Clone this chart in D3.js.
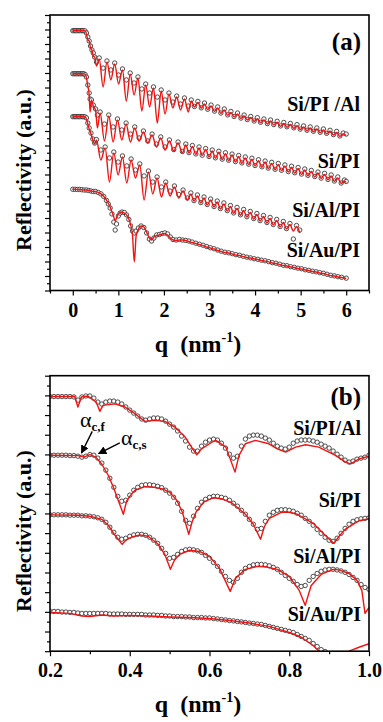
<!DOCTYPE html>
<html>
<head>
<meta charset="utf-8">
<script src="https://cdn.jsdelivr.net/npm/d3@7"></script>
<style>
  body { margin: 0; background: #fff; }
  svg { display: block; }
</style>
</head>
<body>
<svg id="chart" width="383" height="722"></svg>
<script>
// ---- data: log10 of reflectivity (arbitrary offsets) ----

// panel (a): rows are [q, fit, measured]
const siPiAlA = [
  [0.00,-1.08,-1.08],[0.03,-1.08,-1.08],[0.06,-1.08,-1.08],[0.09,-1.08,-1.08],[0.12,-1.08,-1.08],
  [0.15,-1.08,-1.08],[0.18,-1.08,-1.08],[0.21,-1.08,-1.08],[0.24,-1.08,-1.08],[0.27,-1.08,-1.10],
  [0.30,-1.31,-1.24],[0.33,-1.72,-1.52],[0.36,-1.79,-1.79],[0.39,-2.28,-2.14],[0.42,-2.41,-2.41],
  [0.45,-2.83,-2.62],[0.48,-2.90,-2.90],[0.52,-3.52,-3.24],
  [0.58,-3.03,-2.96],[0.665,-4.97,-3.66],[0.75,-3.24,-3.17],[0.835,-4.48,-3.79],[0.92,-3.38,-3.31],
  [1.005,-4.76,-4.14],[1.09,-3.79,-3.72],[1.175,-5.93,-4.48],[1.26,-4.07,-4.00],[1.345,-5.52,-4.69],
  [1.43,-4.34,-4.27],[1.515,-6.62,-5.10],[1.60,-4.83,-4.76],[1.685,-6.34,-5.38],[1.77,-5.03,-4.96],
  [1.855,-7.45,-5.66],[1.94,-5.24,-5.17],[2.025,-6.83,-5.86],[2.11,-5.45,-5.38],[2.195,-6.41,-6.00],
  [2.28,-5.66,-5.59],[2.365,-6.55,-6.14],[2.45,-5.79,-5.72],[2.535,-6.69,-6.28],
  [2.60,-5.93,-5.86],[2.67,-6.34,-6.31],[2.745,-6.03,-5.96],[2.82,-6.43,-6.40],[2.89,-6.14,-6.07],
  [2.96,-6.53,-6.50],[3.035,-6.28,-6.21],[3.11,-6.66,-6.63],[3.18,-6.41,-6.34],[3.25,-6.79,-6.76],
  [3.325,-6.55,-6.48],[3.40,-6.92,-6.89],[3.47,-6.72,-6.65],[3.54,-7.03,-7.00],[3.615,-6.83,-6.76],
  [3.69,-7.14,-7.11],[3.76,-6.97,-6.90],[3.83,-7.24,-7.21],[3.905,-7.07,-7.00],[3.98,-7.34,-7.31],
  [4.05,-7.15,-7.08],[4.12,-7.43,-7.40],[4.195,-7.24,-7.17],[4.27,-7.52,-7.49],[4.34,-7.31,-7.24],
  [4.41,-7.59,-7.56],[4.485,-7.40,-7.33],[4.56,-7.68,-7.65],[4.63,-7.48,-7.41],[4.70,-7.74,-7.71],
  [4.775,-7.55,-7.48],[4.85,-7.81,-7.78],[4.92,-7.63,-7.56],[4.99,-7.90,-7.87],[5.065,-7.72,-7.65],
  [5.14,-7.98,-7.95],[5.21,-7.79,-7.72],[5.28,-8.05,-8.02],[5.355,-7.86,-7.79],[5.43,-8.12,-8.09],
  [5.50,-7.93,-7.86],[5.57,-8.19,-8.16],[5.645,-8.02,-7.95],[5.72,-8.28,-8.25],[5.79,-8.10,-8.03],
  [5.86,-8.37,-8.34],[5.935,-8.21,-8.14],[6.00,-8.31,-8.21]
];

const siPiA = [
  [0.00,-4.05,-4.05],[0.03,-4.05,-4.05],[0.06,-4.05,-4.05],[0.09,-4.05,-4.05],[0.12,-4.05,-4.05],
  [0.15,-4.05,-4.05],[0.18,-4.05,-4.05],[0.21,-4.05,-4.05],[0.24,-4.05,-4.05],[0.27,-4.08,-4.10],
  [0.30,-4.34,-4.28],[0.33,-4.90,-4.83],[0.36,-5.52,-5.38],[0.38,-6.69,-5.79],[0.41,-5.86,-5.86],
  [0.45,-6.28,-6.21],[0.50,-6.55,-6.48],[0.54,-7.79,-6.90],
  [0.60,-6.76,-6.69],[0.695,-8.69,-7.52],[0.79,-6.97,-6.90],[0.885,-8.76,-7.72],[0.98,-7.24,-7.17],
  [1.075,-8.62,-7.93],[1.17,-7.52,-7.45],[1.265,-8.76,-8.21],[1.36,-7.79,-7.72],[1.455,-8.69,-8.48],
  [1.55,-8.07,-8.00],[1.645,-8.83,-8.69],[1.74,-8.28,-8.21],[1.835,-9.10,-8.90],[1.93,-8.48,-8.41],
  [2.025,-9.31,-9.10],[2.12,-8.69,-8.62],[2.215,-9.38,-9.28],[2.31,-8.83,-8.76],[2.405,-9.52,-9.41],
  [2.48,-8.97,-8.90],[2.55,-9.52,-9.49],[2.625,-9.07,-9.00],[2.70,-9.61,-9.58],[2.77,-9.17,-9.10],
  [2.84,-9.70,-9.67],[2.915,-9.28,-9.21],[2.99,-9.79,-9.76],[3.06,-9.38,-9.31],[3.13,-9.88,-9.85],
  [3.205,-9.47,-9.40],[3.28,-9.97,-9.94],[3.35,-9.57,-9.50],[3.42,-10.05,-10.02],[3.495,-9.66,-9.59],
  [3.57,-10.14,-10.11],[3.64,-9.76,-9.69],[3.71,-10.23,-10.20],[3.785,-9.86,-9.79],[3.86,-10.32,-10.29],
  [3.93,-9.95,-9.88],[4.00,-10.41,-10.38],[4.075,-10.05,-9.98],[4.15,-10.50,-10.47],[4.22,-10.14,-10.07],
  [4.29,-10.59,-10.56],[4.365,-10.23,-10.16],[4.44,-10.67,-10.64],[4.51,-10.31,-10.24],[4.58,-10.74,-10.71],
  [4.655,-10.41,-10.34],[4.73,-10.83,-10.80],[4.80,-10.50,-10.43],[4.87,-10.91,-10.88],[4.945,-10.59,-10.52],
  [5.02,-11.00,-10.97],[5.09,-10.69,-10.62],[5.16,-11.09,-11.06],[5.235,-10.79,-10.72],[5.31,-11.17,-11.14],
  [5.38,-10.90,-10.83],[5.45,-11.28,-11.25],[5.525,-10.99,-10.92],[5.60,-11.37,-11.34],[5.67,-11.10,-11.03],
  [5.74,-11.48,-11.45],[5.815,-11.24,-11.17],[5.89,-11.62,-11.59],[5.96,-11.45,-11.38],[6.00,-11.55,-11.48]
];

const siAlPiA = [
  [0.00,-7.01,-7.01],[0.03,-7.01,-7.01],[0.06,-7.01,-7.01],[0.09,-7.01,-7.01],[0.12,-7.01,-7.01],
  [0.15,-7.01,-7.01],[0.18,-7.01,-7.01],[0.21,-7.01,-7.01],[0.24,-7.01,-7.01],[0.27,-7.03,-7.03],
  [0.30,-7.17,-7.10],[0.33,-7.52,-7.45],[0.36,-7.86,-7.79],[0.40,-8.21,-8.14],[0.44,-8.62,-8.55],
  [0.48,-8.90,-8.83],[0.52,-8.62,-8.59],
  [0.615,-10.00,-9.31],[0.71,-9.17,-9.10],[0.805,-11.52,-9.86],[0.90,-9.52,-9.45],[0.995,-11.03,-10.14],
  [1.09,-9.79,-9.72],[1.185,-11.59,-10.41],[1.28,-10.00,-9.93],[1.375,-11.24,-10.69],[1.47,-10.34,-10.27],
  [1.565,-12.76,-11.10],[1.66,-10.83,-10.76],[1.755,-12.34,-11.52],[1.85,-11.24,-11.17],[1.945,-12.55,-11.86],
  [2.04,-11.59,-11.52],[2.135,-12.48,-12.14],[2.23,-11.86,-11.79],[2.325,-12.62,-12.38],[2.42,-12.14,-12.07],
  [2.515,-12.76,-12.62],
  [2.59,-12.34,-12.27],[2.66,-12.83,-12.80],[2.735,-12.48,-12.41],[2.81,-12.97,-12.94],[2.88,-12.62,-12.55],
  [2.95,-13.10,-13.07],[3.025,-12.76,-12.69],[3.10,-13.24,-13.21],[3.17,-12.90,-12.83],[3.24,-13.38,-13.35],
  [3.315,-13.03,-12.96],[3.39,-13.52,-13.49],[3.46,-13.21,-13.14],[3.53,-13.68,-13.65],[3.605,-13.34,-13.27],
  [3.68,-13.81,-13.78],[3.75,-13.48,-13.41],[3.82,-13.94,-13.91],[3.895,-13.62,-13.55],[3.97,-14.07,-14.04],
  [4.04,-13.76,-13.69],[4.11,-14.21,-14.18],[4.185,-13.90,-13.83],[4.26,-14.34,-14.31],[4.33,-14.03,-13.96],
  [4.40,-14.48,-14.45],[4.475,-14.17,-14.10],[4.55,-14.62,-14.59],[4.62,-14.31,-14.24],[4.69,-14.76,-14.73],
  [4.765,-14.45,-14.38],[4.84,-14.90,-15.45],[4.91,-14.59,-14.52],[4.98,-15.03,-14.83]
];

const siAuPiA = [
  [0.00,-12.02,-12.02],[0.05,-12.02,-12.02],[0.10,-12.03,-12.03],[0.15,-12.03,-12.03],[0.20,-12.05,-12.05],
  [0.25,-12.07,-12.07],[0.30,-12.07,-12.07],[0.35,-12.10,-12.10],[0.40,-12.14,-12.14],[0.45,-12.17,-12.17],
  [0.50,-12.17,-12.17],[0.56,-12.24,-12.24],[0.62,-12.34,-12.34],[0.68,-12.52,-12.52],[0.74,-12.76,-12.79],
  [0.78,-13.00,-13.03],[0.82,-13.24,-13.31],[0.86,-13.59,-13.72],[0.90,-13.93,-14.28],[0.93,-14.21,-14.83],
  [0.96,-14.00,-14.41],[1.00,-13.72,-13.86],[1.04,-13.62,-13.66],[1.08,-13.59,-13.59],[1.13,-13.66,-13.62],
  [1.18,-13.79,-13.79],[1.23,-14.07,-14.10],[1.27,-14.48,-14.55],[1.31,-15.17,-14.90],[1.35,-17.03,-15.03],
  [1.39,-15.24,-14.90],[1.44,-14.76,-14.69],[1.50,-14.55,-14.55],[1.56,-14.62,-14.66],[1.62,-14.97,-15.03],
  [1.68,-15.38,-15.45],[1.73,-15.52,-15.59],[1.78,-15.31,-15.38],[1.84,-15.21,-15.17],[1.90,-15.17,-15.14],
  [1.96,-15.10,-15.07],[2.02,-15.07,-15.03],[2.08,-15.17,-15.10],[2.14,-15.38,-15.31],[2.20,-15.52,-15.48],
  [2.27,-15.55,-15.52],[2.34,-15.52,-15.48],[2.41,-15.52,-15.52],[2.48,-15.55,-15.55],[2.55,-15.62,-15.59],
  [2.62,-15.69,-15.66],[2.70,-15.76,-15.74],[2.78,-15.83,-15.81],[2.86,-15.90,-15.88],[2.94,-16.00,-15.97],
  [3.02,-16.07,-16.05],[3.10,-16.14,-16.12],[3.18,-16.24,-16.21],[3.26,-16.31,-16.29],[3.34,-16.38,-16.36],
  [3.42,-16.41,-16.40],[3.50,-16.48,-16.46],[3.58,-16.55,-16.53],[3.66,-16.59,-16.57],[3.74,-16.66,-16.64],
  [3.82,-16.72,-16.70],[3.90,-16.76,-16.75],[3.98,-16.83,-16.81],[4.06,-16.86,-16.85],[4.14,-16.93,-16.91],
  [4.22,-16.97,-16.95],[4.30,-17.03,-17.01],[4.38,-17.10,-17.08],[4.46,-17.14,-17.12],[4.54,-17.21,-17.19],
  [4.62,-17.28,-17.26],[4.70,-17.31,-17.29],[4.78,-17.38,-17.36],[4.86,-17.41,-17.40],[4.94,-17.48,-17.46],
  [5.02,-17.52,-17.50],[5.10,-17.59,-17.57],[5.18,-17.62,-17.61],[5.26,-17.69,-17.67],[5.34,-17.72,-17.71],
  [5.42,-17.79,-17.77],[5.50,-17.83,-17.81],[5.58,-17.90,-17.88],[5.66,-17.97,-17.95],[5.74,-18.00,-17.99],
  [5.82,-18.07,-18.05],[5.90,-18.10,-18.09],[6.00,-18.17,-18.15]
];

// panel (b): measured points on a common q grid, fits as key points [q, value]
const qB = [
  0.20,0.21,0.22,0.23,0.24,0.25,0.26,0.27,0.28,0.29,
  0.30,0.31,0.32,0.33,0.34,0.35,0.36,0.37,0.38,0.39,
  0.40,0.41,0.42,0.43,0.44,0.45,0.46,0.47,0.48,0.49,
  0.50,0.51,0.52,0.53,0.54,0.55,0.56,0.57,0.58,0.59,
  0.60,0.61,0.62,0.63,0.64,0.65,0.66,0.67,0.68,0.69,
  0.70,0.71,0.72,0.73,0.74,0.75,0.76,0.77,0.78,0.79,
  0.80,0.81,0.82,0.83,0.84,0.85,0.86,0.87,0.88,0.89,
  0.90,0.91,0.92,0.93,0.94,0.95,0.96,0.97,0.98,0.99,
  1.00
];

const expSiPiAlB = [
  -1.06,-1.06,-1.06,-1.06,-1.06,-1.06,-1.08,-1.24,-1.08,-1.03,
  -1.03,-1.14,-1.34,-1.44,-1.34,-1.29,-1.29,-1.34,-1.44,-1.59,
  -1.75,-1.90,-2.05,-2.20,-2.26,-2.20,-2.15,-2.15,-2.20,-2.31,
  -2.46,-2.61,-2.81,-3.07,-3.32,-3.63,-3.83,-3.83,-3.58,-3.38,
  -3.27,-3.22,-3.27,-3.43,-3.68,-3.99,-4.19,-4.09,-3.58,-3.22,
  -3.07,-3.02,-3.02,-3.07,-3.17,-3.27,-3.43,-3.58,-3.68,-3.73,
  -3.63,-3.43,-3.32,-3.27,-3.27,-3.27,-3.32,-3.38,-3.48,-3.58,
  -3.68,-3.83,-3.99,-4.14,-4.29,-4.39,-4.34,-4.24,-4.19,-4.14,
  -4.04
];
const expSiPiB = [
  -4.04,-4.04,-4.04,-4.04,-4.04,-4.06,-4.06,-4.09,-4.14,-4.09,
  -4.01,-4.04,-4.19,-4.44,-4.80,-5.21,-5.67,-6.13,-6.38,-6.33,
  -6.07,-5.82,-5.67,-5.57,-5.54,-5.54,-5.57,-5.62,-5.69,-5.82,
  -5.97,-6.18,-6.48,-6.89,-7.35,-7.50,-7.14,-6.74,-6.43,-6.28,
  -6.18,-6.13,-6.13,-6.18,-6.23,-6.33,-6.48,-6.63,-6.84,-7.04,
  -7.30,-7.55,-7.81,-7.76,-7.40,-7.09,-6.94,-6.84,-6.81,-6.81,
  -6.84,-6.89,-6.99,-7.09,-7.25,-7.40,-7.60,-7.81,-8.01,-8.21,
  -8.36,-8.42,-8.26,-8.01,-7.76,-7.55,-7.40,-7.32,-7.27,-7.25,
  -7.22
];
const expSiAlPiB = [
  -7.07,-7.07,-7.07,-7.07,-7.07,-7.09,-7.09,-7.09,-7.12,-7.12,
  -7.14,-7.17,-7.22,-7.30,-7.45,-7.70,-7.96,-8.21,-8.31,-8.26,
  -8.16,-8.09,-8.06,-8.06,-8.11,-8.21,-8.36,-8.52,-8.77,-9.03,
  -9.28,-9.23,-9.08,-8.93,-8.85,-8.82,-8.85,-8.90,-8.98,-9.13,
  -9.28,-9.49,-9.69,-9.94,-10.20,-10.40,-10.50,-10.30,-9.99,-9.79,
  -9.69,-9.61,-9.59,-9.59,-9.61,-9.66,-9.74,-9.84,-9.99,-10.15,
  -10.30,-10.45,-10.61,-10.71,-10.66,-10.40,-10.20,-10.05,-9.94,-9.87,
  -9.84,-9.84,-9.87,-9.92,-9.99,-10.10,-10.25,-10.40,-10.61,-10.76,
  -10.86
];
// measured Si/Au/PI leaves the frame after q = 0.90
const expSiAuPiB = [
  -11.98,-11.98,-11.98,-12.01,-12.01,-12.03,-12.03,-12.06,-12.08,-12.08,
  -12.08,-12.08,-12.08,-12.08,-12.08,-12.11,-12.11,-12.11,-12.11,-12.13,
  -12.13,-12.13,-12.13,-12.13,-12.16,-12.16,-12.16,-12.18,-12.18,-12.21,
  -12.21,-12.24,-12.24,-12.24,-12.26,-12.26,-12.29,-12.29,-12.29,-12.31,
  -12.31,-12.34,-12.36,-12.39,-12.41,-12.44,-12.46,-12.49,-12.51,-12.54,
  -12.57,-12.59,-12.62,-12.64,-12.69,-12.74,-12.79,-12.84,-12.89,-12.94,
  -12.99,-13.05,-13.15,-13.25,-13.35,-13.45,-13.61,-13.76,-13.92,-14.02,
  -14.12
];

const fitSiPiAlB = [
  [0.20,-1.06],[0.262,-1.06],[0.270,-1.59],[0.279,-1.08],[0.295,-1.03],[0.316,-1.34],[0.325,-1.81],
  [0.333,-1.51],[0.363,-1.43],[0.388,-1.59],[0.413,-1.93],[0.438,-2.32],[0.463,-2.27],[0.488,-2.32],
  [0.513,-2.61],[0.539,-3.12],[0.555,-3.63],[0.568,-4.02],[0.580,-3.72],[0.606,-3.38],[0.616,-3.29],
  [0.641,-3.63],[0.664,-4.90],[0.674,-4.05],[0.690,-3.46],[0.715,-3.29],[0.749,-3.46],[0.770,-3.72],
  [0.791,-3.88],[0.816,-3.63],[0.841,-3.51],[0.874,-3.63],[0.916,-4.05],[0.941,-4.39],[0.954,-4.48],
  [0.975,-4.23],[1.00,-4.09]
];
const fitSiPiB = [
  [0.20,-4.04],[0.27,-4.06],[0.285,-4.14],[0.30,-4.01],[0.315,-4.14],[0.33,-4.50],[0.346,-5.06],
  [0.36,-5.72],[0.372,-6.38],[0.384,-7.04],[0.392,-6.38],[0.40,-6.13],[0.413,-5.82],[0.438,-5.64],
  [0.46,-5.67],[0.48,-5.74],[0.50,-5.92],[0.518,-6.33],[0.532,-6.94],[0.548,-8.06],[0.556,-7.45],
  [0.566,-6.94],[0.585,-6.43],[0.61,-6.20],[0.63,-6.25],[0.657,-6.48],[0.69,-7.04],[0.71,-7.55],
  [0.728,-8.31],[0.738,-7.65],[0.75,-7.25],[0.78,-6.94],[0.80,-6.94],[0.82,-7.04],[0.86,-7.50],
  [0.89,-8.11],[0.912,-8.52],[0.925,-8.16],[0.94,-7.81],[0.975,-7.37],[1.00,-7.27]
];
const fitSiAlPiB = [
  [0.20,-7.07],[0.27,-7.09],[0.30,-7.14],[0.33,-7.30],[0.346,-7.60],[0.363,-8.11],[0.381,-8.57],
  [0.39,-8.36],[0.404,-8.21],[0.425,-8.09],[0.446,-8.16],[0.47,-8.54],[0.488,-9.08],[0.502,-9.84],
  [0.512,-9.38],[0.525,-9.08],[0.55,-8.87],[0.575,-8.93],[0.60,-9.18],[0.625,-9.79],[0.652,-10.96],
  [0.665,-10.30],[0.69,-9.84],[0.72,-9.69],[0.74,-9.71],[0.77,-9.84],[0.80,-10.20],[0.825,-10.91],
  [0.840,-11.67],[0.855,-10.66],[0.88,-10.10],[0.91,-9.84],[0.925,-9.87],[0.95,-10.05],[0.97,-10.40],
  [0.982,-10.91],[0.99,-12.08],[1.00,-11.78]
];
const fitSiAuPiB = [
  [0.20,-12.03],[0.25,-12.08],[0.28,-12.21],[0.30,-12.24],[0.33,-12.16],[0.36,-12.21],[0.40,-12.18],
  [0.45,-12.21],[0.50,-12.26],[0.55,-12.29],[0.60,-12.34],[0.65,-12.44],[0.70,-12.57],[0.75,-12.74],
  [0.80,-13.05],[0.83,-13.29],[0.86,-13.71],[0.885,-14.21],[0.92,-15.20],[0.95,-14.00],[0.975,-13.80],
  [1.00,-13.62]
];

// tick labels
const qTicksA = [0, 1, 2, 3, 4, 5, 6];
const qMinorA = [-0.5, 0.5, 1.5, 2.5, 3.5, 4.5, 5.5, 6.5];
const qTicksB = [0.2, 0.4, 0.6, 0.8, 1.0];
const qMinorB = [0.3, 0.5, 0.7, 0.9];

const namesA = ['Si/PI /Al', 'Si/PI', 'Si/Al/PI', 'Si/Au/PI'];
const namesB = ['Si/PI/Al', 'Si/PI', 'Si/Al/PI', 'Si/Au/PI'];

// ---- drawing ----
const svg = d3.select('#chart');
const serif = '"Liberation Serif", "Times New Roman", serif';
const red = '#f21212';
const left = 50, right = 369;

const panels = [
  {
    id: 'a', xDomain: [-0.5, 6.5], decades: [-19, 0], top: 15, bottom: 290.5,
    major: qTicksA, minor: qMinorA, fmt: d3.format('d'), curve: d3.curveMonotoneX,
    series: [siPiAlA, siPiA, siAlPiA, siAuPiA].map(rows => ({
      pts: rows.map(r => [r[0], r[2]]),
      line: rows.map(r => [r[0], r[1]])
    })),
    names: namesA, nameY: [111, 168, 216.5, 257], nameX: 360,
    tag: '(a)', tagY: 50, yLabelStart: 251, titleY: 352
  },
  {
    id: 'b', xDomain: [0.2, 1.0], decades: [-14, 0], top: 375.7, bottom: 651.2,
    major: qTicksB, minor: qMinorB, fmt: d3.format('.1f'), curve: d3.curveLinear,
    series: [
      [expSiPiAlB, fitSiPiAlB], [expSiPiB, fitSiPiB],
      [expSiAlPiB, fitSiAlPiB], [expSiAuPiB, fitSiAuPiB]
    ].map(([exp, fit]) => ({ pts: exp.map((v, i) => [qB[i], v]), line: fit })),
    names: namesB, nameY: [435, 507, 563, 620.5], nameX: 361,
    tag: '(b)', tagY: 405, yLabelStart: 612, titleY: 712
  }
];

panels.forEach(p => {
  const x = d3.scaleLinear().domain(p.xDomain).range([left, right]);
  const y = d3.scaleLog()
    .domain([10 ** p.decades[0], 10 ** p.decades[1]])
    .range([p.bottom, p.top]);
  const g = svg.append('g');

  g.append('clipPath').attr('id', 'clip-' + p.id)
    .append('rect')
    .attr('x', left).attr('y', p.top)
    .attr('width', right - left).attr('height', p.bottom - p.top);

  // bottom axis, major + minor
  const xa = g.append('g')
    .attr('transform', `translate(0,${p.bottom})`)
    .call(d3.axisBottom(x).tickValues(p.major).tickFormat(p.fmt).tickSize(5).tickPadding(7));
  g.append('g')
    .attr('transform', `translate(0,${p.bottom})`)
    .call(d3.axisBottom(x).tickValues(p.minor).tickFormat('').tickSize(3));

  // left axis: decades + half-decade minor ticks
  const dec = d3.range(p.decades[0], p.decades[1] + 1);
  g.append('g')
    .attr('transform', `translate(${left},0)`)
    .call(d3.axisLeft(y).tickValues(dec.map(k => 10 ** k)).tickFormat('').tickSize(5));
  g.append('g')
    .attr('transform', `translate(${left},0)`)
    .call(d3.axisLeft(y).tickValues(dec.slice(0, -1).map(k => 10 ** (k + 0.5))).tickFormat('').tickSize(3));

  g.selectAll('.domain').remove();
  g.selectAll('.tick line').attr('stroke', '#000').attr('stroke-width', 1.2);
  xa.selectAll('text')
    .attr('font-family', serif).attr('font-size', 20).attr('font-weight', 'bold').attr('fill', '#000');

  // data
  const plot = g.append('g').attr('clip-path', `url(#clip-${p.id})`);
  const line = d3.line().curve(p.curve).x(d => x(d[0])).y(d => y(10 ** d[1]));

  p.series.forEach(s => {
    plot.append('g')
      .selectAll('circle')
      .data(s.pts)
      .enter()
      .append('circle')
      .attr('cx', d => x(d[0]))
      .attr('cy', d => y(10 ** d[1]))
      .attr('r', 2.2)
      .attr('fill', '#fff')
      .attr('stroke', '#222')
      .attr('stroke-width', 0.8);
  });
  p.series.forEach(s => {
    plot.append('path')
      .datum(s.line)
      .attr('d', line)
      .attr('fill', 'none')
      .attr('stroke', red)
      .attr('stroke-width', 1.4)
      .attr('stroke-linejoin', 'round');
  });

  // frame
  g.append('rect')
    .attr('x', left).attr('y', p.top)
    .attr('width', right - left).attr('height', p.bottom - p.top)
    .attr('fill', 'none').attr('stroke', '#000').attr('stroke-width', 1.6);

  // text
  const txt = (sel) => sel.attr('font-family', serif).attr('font-weight', 'bold').attr('fill', '#000');

  p.names.forEach((n, i) => {
    g.append('text').call(txt)
      .attr('x', p.nameX).attr('y', p.nameY[i])
      .attr('text-anchor', 'end').attr('font-size', 20)
      .text(n);
  });

  g.append('text').call(txt)
    .attr('x', 361).attr('y', p.tagY)
    .attr('text-anchor', 'end').attr('font-size', 25)
    .text(p.tag);

  // y title starts at its lower end and runs upward
  g.append('text').call(txt)
    .attr('transform', `translate(31,${p.yLabelStart}) rotate(-90)`)
    .attr('text-anchor', 'start').attr('font-size', 22)
    .text('Reflectivity (a.u.)');

  const title = g.append('text').call(txt)
    .attr('x', 198).attr('y', p.titleY)
    .attr('text-anchor', 'middle').attr('font-size', 24);
  title.append('tspan').text('q\u2002(nm');
  title.append('tspan').attr('font-size', 14).attr('dy', -10).text('-1');
  title.append('tspan').attr('dy', 10).text(')');

  // critical-angle arrows in panel (b)
  if (p.id === 'b') {
    const defs = svg.append('defs');
    defs.append('marker')
      .attr('id', 'arrow').attr('viewBox', '0 0 10 10')
      .attr('refX', 9).attr('refY', 5)
      .attr('markerWidth', 6).attr('markerHeight', 6)
      .attr('orient', 'auto')
      .append('path').attr('d', 'M0,0L10,5L0,10Z').attr('fill', '#000');

    const notes = [
      { sub: 'c,f', tx: 80, ty: 427, from: [0.306, -2.83], to: [0.279, -3.93] },
      { sub: 'c,s', tx: 121, ty: 445, from: [0.375, -3.41], to: [0.322, -3.96] }
    ];
    notes.forEach(n => {
      g.append('line')
        .attr('x1', x(n.from[0])).attr('y1', y(10 ** n.from[1]))
        .attr('x2', x(n.to[0])).attr('y2', y(10 ** n.to[1]))
        .attr('stroke', '#000').attr('stroke-width', 1.4)
        .attr('marker-end', 'url(#arrow)');
      const t = g.append('text').call(txt)
        .attr('x', n.tx).attr('y', n.ty).attr('font-size', 22).attr('font-weight', 'normal');
      t.append('tspan').text('α');
      t.append('tspan').attr('font-size', 13).attr('font-weight', 'bold').attr('dy', 4).text(n.sub);
    });
  }
});
</script>
</body>
</html>
